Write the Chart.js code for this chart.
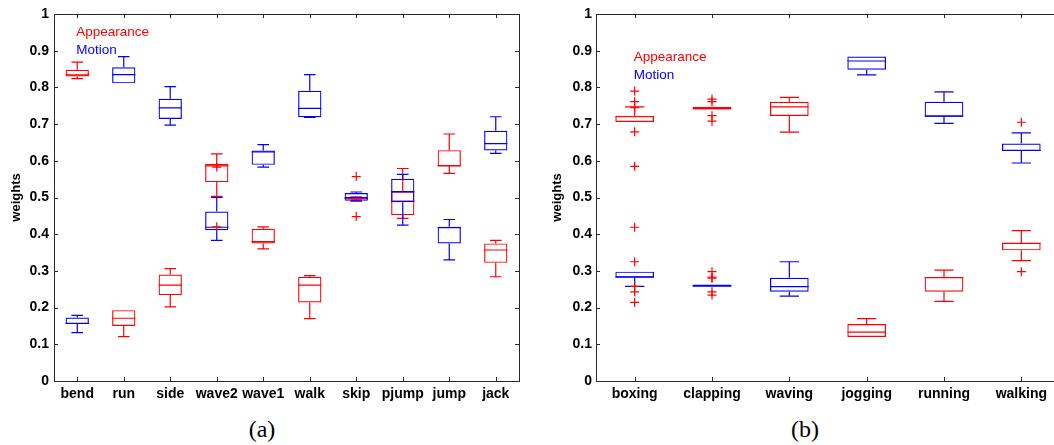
<!DOCTYPE html>
<html>
<head>
<meta charset="utf-8">
<script src="https://cdn.jsdelivr.net/npm/chart.js@4/dist/chart.umd.min.js"></script>
<style>
  html, body { margin: 0; padding: 0; background: #fff; overflow: hidden; width: 1054px; height: 445px; }
  .panel { position: absolute; top: 0; }
  .caption { position: absolute; top: 417px; line-height: 1; font-family: "Liberation Serif", serif; font-size: 24px; transform: translateX(-50%); color: #000; }
</style>
</head>
<body>
<div class="panel" style="left:0"><canvas id="chartA" width="527" height="405"></canvas></div>
<div class="panel" style="left:540px"><canvas id="chartB" width="527" height="405"></canvas></div>
<div class="caption" style="left:262px">(a)</div>
<div class="caption" style="left:805px">(b)</div>
<script>
const RED = "#ff0000";
const BLUE = "#0000ff";

const weightTicks = [0, 0.1, 0.2, 0.3, 0.4, 0.5, 0.6, 0.7, 0.8, 0.9, 1];

// panel (a) -- each box is [min, q1, median, q3, max]
const categoriesA = ["bend", "run", "side", "wave2", "wave1", "walk", "skip", "pjump", "jump", "jack"];
const appearanceA = [
  [0.824, 0.830, 0.834, 0.848, 0.869],
  [0.121, 0.150, 0.171, 0.193, 0.193],
  [0.202, 0.234, 0.261, 0.290, 0.306],
  [0.503, 0.542, 0.586, 0.591, 0.619],
  [0.360, 0.375, 0.380, 0.415, 0.420],
  [0.170, 0.214, 0.261, 0.284, 0.287],
  [0.493, 0.495, 0.498, 0.500, 0.502],
  [0.443, 0.452, 0.490, 0.516, 0.579],
  [0.566, 0.585, 0.586, 0.629, 0.673],
  [0.284, 0.322, 0.357, 0.375, 0.383]
];
const motionA = [
  [0.132, 0.155, 0.157, 0.173, 0.179],
  [0.811, 0.811, 0.835, 0.855, 0.884],
  [0.697, 0.714, 0.744, 0.769, 0.802],
  [0.383, 0.411, 0.419, 0.462, 0.500],
  [0.583, 0.589, 0.624, 0.628, 0.644],
  [0.718, 0.719, 0.743, 0.791, 0.835],
  [0.490, 0.491, 0.500, 0.512, 0.515],
  [0.425, 0.487, 0.516, 0.551, 0.563],
  [0.330, 0.375, 0.418, 0.420, 0.440],
  [0.620, 0.628, 0.647, 0.682, 0.720]
];
const outliersA = [
  ["wave2", 0.583], ["wave2", 0.420], ["skip", 0.557], ["skip", 0.448]
];

// panel (b)
const categoriesB = ["boxing", "clapping", "waving", "jogging", "running", "walking"];
const appearanceB = [
  [0.706, 0.706, 0.720, 0.723, 0.747],
  [0.740, 0.740, 0.742, 0.747, 0.747],
  [0.678, 0.722, 0.747, 0.761, 0.773],
  [0.120, 0.120, 0.133, 0.155, 0.170],
  [0.217, 0.243, 0.282, 0.283, 0.302],
  [0.328, 0.356, 0.375, 0.377, 0.410]
];
const motionB = [
  [0.258, 0.282, 0.283, 0.298, 0.298],
  [0.257, 0.257, 0.259, 0.263, 0.263],
  [0.231, 0.243, 0.257, 0.281, 0.325],
  [0.834, 0.848, 0.872, 0.884, 0.884],
  [0.702, 0.720, 0.722, 0.761, 0.788],
  [0.594, 0.627, 0.628, 0.647, 0.676]
];
const outliersB = [
  ["boxing", 0.790], ["boxing", 0.761], ["boxing", 0.745], ["boxing", 0.679], ["boxing", 0.585],
  ["boxing", 0.419], ["boxing", 0.325], ["boxing", 0.258], ["boxing", 0.243], ["boxing", 0.214],
  ["clapping", 0.768], ["clapping", 0.761], ["clapping", 0.723], ["clapping", 0.708],
  ["clapping", 0.298], ["clapping", 0.283], ["clapping", 0.280], ["clapping", 0.243], ["clapping", 0.234],
  ["walking", 0.705], ["walking", 0.298]
];

Chart.defaults.font.family = "'Liberation Sans', Arial, sans-serif";

// whiskers, caps and median drawn right after each box dataset
const boxPlugin = {
  id: "boxWhiskers",
  afterDatasetDraw(chart, args) {
    const ds = chart.data.datasets[args.index];
    if (!ds.stats) return;
    const y = chart.scales.y;
    const py = v => y.getPixelForValue(v);
    const ctx = chart.ctx;
    ctx.save();
    ctx.strokeStyle = ds.borderColor;
    ctx.lineWidth = 1.2;
    args.meta.data.forEach((bar, i) => {
      const [lo, q1, med, q3, hi] = ds.stats[i];
      const x = bar.x, half = bar.width / 2, cap = bar.width / 4;
      ctx.beginPath();
      if (hi > q3) {
        ctx.moveTo(x, py(q3)); ctx.lineTo(x, py(hi));
        ctx.moveTo(x - cap, py(hi)); ctx.lineTo(x + cap, py(hi));
      }
      if (lo < q1) {
        ctx.moveTo(x, py(q1)); ctx.lineTo(x, py(lo));
        ctx.moveTo(x - cap, py(lo)); ctx.lineTo(x + cap, py(lo));
      }
      ctx.moveTo(x - half, py(med)); ctx.lineTo(x + half, py(med));
      ctx.stroke();
    });
    ctx.restore();
  }
};

// matlab style box frame with inward ticks, plus the text legend
const framePlugin = {
  id: "frame",
  beforeDatasetsDraw(chart, args, opts) {
    const { left, right, top, bottom } = chart.chartArea;
    const x = chart.scales.x, y = chart.scales.y;
    const ctx = chart.ctx;
    ctx.save();
    ctx.strokeStyle = "#2a2a2a";
    ctx.lineWidth = 1;
    ctx.strokeRect(Math.round(left) + 0.5, Math.round(top) + 0.5, Math.round(right - left), Math.round(bottom - top));
    ctx.beginPath();
    x.ticks.forEach((t, i) => {
      const px = Math.round(x.getPixelForTick(i)) + 0.5;
      ctx.moveTo(px, bottom); ctx.lineTo(px, bottom - 4);
      ctx.moveTo(px, top); ctx.lineTo(px, top + 4);
    });
    y.ticks.forEach((t, i) => {
      const py = Math.round(y.getPixelForTick(i)) + 0.5;
      ctx.moveTo(left, py); ctx.lineTo(left + 4, py);
      ctx.moveTo(right, py); ctx.lineTo(right - 4, py);
    });
    ctx.stroke();

    ctx.font = "13.5px 'Liberation Sans', Arial, sans-serif";
    ctx.textAlign = "left";
    ctx.textBaseline = "middle";
    const lx = x.getPixelForValue(0) - 1;
    let ly = y.getPixelForValue(opts.legendTop);
    chart.data.datasets.filter(d => d.stats).forEach(d => {
      ctx.fillStyle = d.borderColor;
      ctx.fillText(d.label, lx, ly);
      ly += 18;
    });
    ctx.restore();
  }
};

function boxDataset(label, stats, color, order) {
  return {
    type: "bar",
    label: label,
    stats: stats,
    data: stats.map(s => [s[1], s[3]]),
    borderColor: color,
    backgroundColor: "rgba(0,0,0,0)",
    borderWidth: 1.2,
    borderSkipped: false,
    grouped: false,
    barPercentage: 0.5,
    categoryPercentage: 1,
    order: order
  };
}

function makeChart(id, categories, appearance, motion, outliers, opt) {
  return new Chart(document.getElementById(id), {
    type: "bar",
    data: {
      labels: categories,
      datasets: [
        boxDataset("Appearance", appearance, RED, 3),
        boxDataset("Motion", motion, BLUE, 2),
        {
          type: "line",
          label: "outliers",
          data: outliers.map(([c, v]) => ({ x: c, y: v })),
          showLine: false,
          pointStyle: "cross",
          pointRadius: 4.5,
          pointBorderWidth: 1.2,
          borderColor: RED,
          backgroundColor: RED,
          order: 1
        }
      ]
    },
    options: {
      responsive: false,
      animation: false,
      events: [],
      layout: { padding: { top: 14, right: opt.padRight, left: 0, bottom: 0 } },
      plugins: {
        legend: { display: false },
        tooltip: { enabled: false },
        frame: { legendTop: opt.legendTop }
      },
      scales: {
        x: {
          offset: true,
          grid: { display: false, drawTicks: false, tickLength: 0 },
          border: { display: false },
          ticks: {
            color: "#000",
            font: { size: 14, weight: "bold" },
            padding: 5,
            maxRotation: 0,
            autoSkip: false
          },
          afterFit: s => { s.height = 24; }
        },
        y: {
          min: 0,
          max: 1,
          afterBuildTicks: s => { s.ticks = weightTicks.map(v => ({ value: v })); },
          grid: { display: false, drawTicks: false, tickLength: 0 },
          border: { display: false },
          ticks: {
            color: "#000",
            font: { size: 14, weight: "bold" },
            padding: opt.tickPad,
            callback: v => String(v)
          },
          title: {
            display: true,
            text: "weights",
            color: "#000",
            font: { size: 13, weight: "bold" },
            padding: { top: opt.titlePad, bottom: 0 }
          },
          afterFit: s => { s.width = opt.axisWidth; }
        }
      }
    },
    plugins: [boxPlugin, framePlugin]
  });
}

makeChart("chartA", categoriesA, appearanceA, motionA, outliersA,
  { padRight: 8, axisWidth: 54, tickPad: 5, titlePad: 9, legendTop: 0.951 });
makeChart("chartB", categoriesB, appearanceB, motionB, outliersB,
  { padRight: 7, axisWidth: 56, tickPad: 4, titlePad: 10, legendTop: 0.883 });
</script>
</body>
</html>
